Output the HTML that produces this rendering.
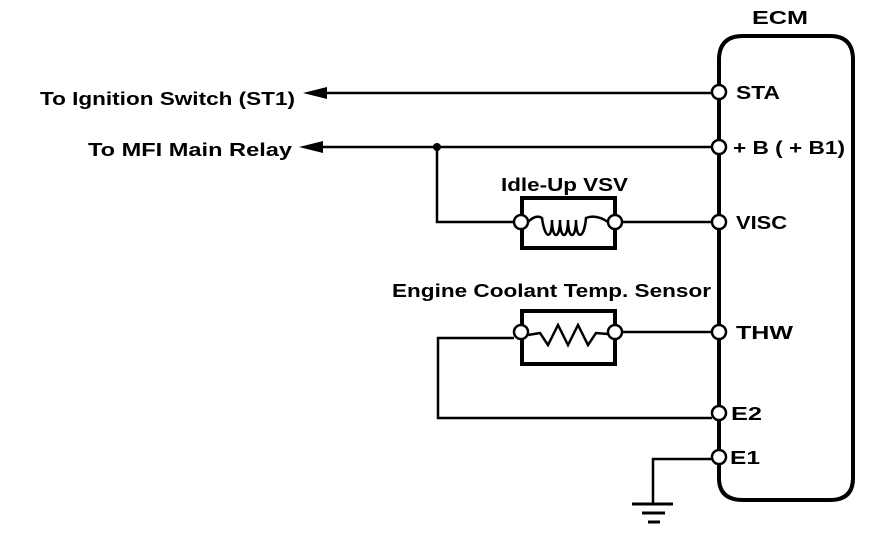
<!DOCTYPE html>
<html><head><style>
body{margin:0;background:#fff;}
svg text{font-family:"Liberation Sans",Arial,sans-serif;font-weight:bold;font-size:18px;fill:#000;}
</style></head><body>
<svg width="896" height="530" viewBox="0 0 896 530" xmlns="http://www.w3.org/2000/svg">
<g fill="none" stroke="#000">
<path d="M719 92 V60 Q719 36 743 36 H830 Q853 36 853 60 V478 Q853 500 830 500 H743 Q719 500 719 478 V457" stroke-width="4"/>
<line x1="719" y1="92" x2="719" y2="457" stroke-width="4"/>
<g stroke-width="2.5">
<line x1="318" y1="93" x2="712" y2="93"/>
<line x1="318" y1="147" x2="712" y2="147"/>
<polyline points="437,147 437,222 514,222"/>
<line x1="622" y1="222" x2="712" y2="222"/>
<line x1="622" y1="332" x2="712" y2="332"/>
<polyline points="514,338 438,338 438,418 712,418"/>
<polyline points="712,459 653,459 653,503"/>
</g>
<rect x="522" y="198" width="93" height="50" stroke-width="4"/>
<rect x="522" y="311" width="93" height="53" stroke-width="4"/>
<path d="M528 222 Q536 214 542 218 C545 240 552 240 552 220 C552 240 560 240 560 220 C560 240 568 240 568 220 C568 240 576 240 576 220 C576 240 584 240 586 218 Q596 214 608 222" stroke-width="2.5"/>
<path d="M528 335 L540 333 L548 345 L558 325 L568 345 L578 325 L588 345 L596 333 L608 334" stroke-width="2.5"/>
<line x1="632" y1="504" x2="673" y2="504" stroke-width="3"/>
<line x1="642" y1="513" x2="665" y2="513" stroke-width="3"/>
<line x1="648" y1="522" x2="660" y2="522" stroke-width="3"/>
</g>
<g fill="#fff" stroke="#000" stroke-width="2.5">
<circle cx="719" cy="92" r="7"/><circle cx="719" cy="147" r="7"/>
<circle cx="719" cy="222" r="7"/><circle cx="719" cy="332" r="7"/>
<circle cx="719" cy="413" r="7"/><circle cx="719" cy="457" r="7"/>
<circle cx="521" cy="222" r="7"/><circle cx="615" cy="222" r="7"/>
<circle cx="521" cy="332" r="7"/><circle cx="615" cy="332" r="7"/>
</g>
<circle cx="437" cy="147" r="4"/>
<polygon points="303,93 327,87 327,99"/>
<polygon points="299,147 323,141 323,153"/>
<text x="40" y="105" textLength="255" lengthAdjust="spacingAndGlyphs">To Ignition Switch (ST1)</text>
<text x="88" y="156" textLength="204" lengthAdjust="spacingAndGlyphs">To MFI Main Relay</text>
<text x="752" y="24" textLength="56" lengthAdjust="spacingAndGlyphs">ECM</text>
<text x="736" y="99" textLength="44" lengthAdjust="spacingAndGlyphs">STA</text>
<text x="733" y="154" textLength="112" lengthAdjust="spacingAndGlyphs">+ B  ( + B1)</text>
<text x="736" y="229" textLength="51" lengthAdjust="spacingAndGlyphs">VISC</text>
<text x="736" y="339" textLength="57" lengthAdjust="spacingAndGlyphs">THW</text>
<text x="731" y="420" textLength="31" lengthAdjust="spacingAndGlyphs">E2</text>
<text x="730" y="464" textLength="30" lengthAdjust="spacingAndGlyphs">E1</text>
<text x="501" y="191" textLength="127" lengthAdjust="spacingAndGlyphs">Idle-Up VSV</text>
<text x="392" y="297" textLength="319" lengthAdjust="spacingAndGlyphs">Engine Coolant Temp. Sensor</text>
</svg>
</body></html>
